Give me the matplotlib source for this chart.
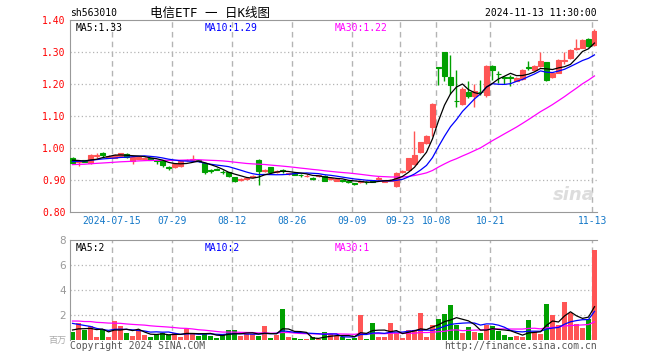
import numpy as np
import pandas as pd
import matplotlib
matplotlib.use("Agg")
import matplotlib.pyplot as plt

# ---- data (sh563010, daily) ----
opens = [0.970, 0.955, 0.961, 0.952, 0.975, 0.985, 0.972, 0.970, 0.974, 0.980,
         0.958, 0.967, 0.966, 0.968, 0.961, 0.961, 0.940, 0.940, 0.943, 0.962,
         0.962, 0.962, 0.953, 0.931, 0.934, 0.926, 0.925, 0.908, 0.901, 0.903,
         0.908, 0.964, 0.928, 0.940, 0.926, 0.930, 0.918, 0.922, 0.917, 0.912,
         0.906, 0.912, 0.914, 0.903, 0.898, 0.899, 0.897, 0.890, 0.893, 0.894,
         0.897, 0.903, 0.895, 0.898, 0.882, 0.925, 0.932, 0.950, 0.986, 1.016,
         1.066, 1.252, 1.300, 1.222, 1.148, 1.139, 1.174, 1.161, 1.176, 1.167,
         1.257, 1.232, 1.222, 1.221, 1.210, 1.216, 1.252, 1.243, 1.255, 1.269,
         1.222, 1.235, 1.273, 1.281, 1.309, 1.313, 1.341, 1.323]
closes = [0.953, 0.958, 0.957, 0.979, 0.977, 0.978, 0.976, 0.978, 0.983, 0.972,
          0.971, 0.971, 0.969, 0.963, 0.959, 0.948, 0.937, 0.950, 0.959, 0.964,
          0.965, 0.958, 0.925, 0.929, 0.932, 0.925, 0.911, 0.896, 0.903, 0.905,
          0.914, 0.927, 0.931, 0.924, 0.928, 0.928, 0.922, 0.917, 0.915, 0.914,
          0.904, 0.916, 0.898, 0.905, 0.902, 0.897, 0.893, 0.889, 0.896, 0.893,
          0.894, 0.905, 0.900, 0.901, 0.922, 0.928, 0.969, 0.979, 1.019, 1.039,
          1.138, 1.249, 1.224, 1.196, 1.146, 1.185, 1.161, 1.177, 1.174, 1.255,
          1.243, 1.230, 1.220, 1.219, 1.219, 1.245, 1.250, 1.257, 1.271, 1.214,
          1.234, 1.276, 1.275, 1.307, 1.311, 1.339, 1.318, 1.365]
highs = [0.972, 0.962, 0.963, 0.980, 0.983, 0.986, 0.978, 0.980, 0.984, 0.983,
         0.973, 0.975, 0.971, 0.969, 0.963, 0.962, 0.944, 0.952, 0.960, 0.966,
         0.979, 0.964, 0.954, 0.935, 0.937, 0.930, 0.926, 0.909, 0.905, 0.906,
         0.915, 0.965, 0.935, 0.941, 0.931, 0.933, 0.923, 0.923, 0.920, 0.920,
         0.909, 0.917, 0.916, 0.908, 0.903, 0.901, 0.898, 0.892, 0.898, 0.897,
         0.898, 0.913, 0.901, 0.903, 0.924, 0.930, 0.970, 1.054, 1.020, 1.041,
         1.140, 1.252, 1.300, 1.290, 1.245, 1.190, 1.208, 1.200, 1.213, 1.260,
         1.258, 1.240, 1.224, 1.229, 1.222, 1.247, 1.273, 1.259, 1.300, 1.270,
         1.236, 1.278, 1.300, 1.309, 1.342, 1.340, 1.344, 1.373]
lows = [0.951, 0.944, 0.955, 0.951, 0.970, 0.972, 0.970, 0.968, 0.972, 0.969,
        0.950, 0.965, 0.962, 0.961, 0.951, 0.940, 0.930, 0.936, 0.942, 0.958,
        0.958, 0.956, 0.920, 0.921, 0.930, 0.920, 0.909, 0.894, 0.896, 0.901,
        0.906, 0.883, 0.925, 0.922, 0.923, 0.921, 0.916, 0.915, 0.908, 0.908,
        0.900, 0.910, 0.896, 0.900, 0.897, 0.894, 0.892, 0.883, 0.891, 0.889,
        0.893, 0.900, 0.894, 0.897, 0.877, 0.923, 0.930, 0.948, 0.984, 1.014,
        1.036, 1.198, 1.210, 1.170, 1.128, 1.135, 1.155, 1.128, 1.167, 1.160,
        1.214, 1.203, 1.200, 1.193, 1.208, 1.214, 1.245, 1.240, 1.252, 1.210,
        1.219, 1.233, 1.262, 1.279, 1.307, 1.311, 1.316, 1.320]
volumes = [0.67, 1.36, 0.77, 1.12, 0.24, 0.88, 0.24, 1.52, 1.12, 0.56,
           0.32, 0.80, 0.40, 0.24, 0.45, 0.59, 0.40, 0.56, 0.24, 0.85,
           0.56, 0.32, 0.56, 0.35, 0.16, 0.40, 0.80, 0.80, 0.32, 0.48,
           0.48, 0.32, 1.12, 0.16, 0.40, 2.48, 0.24, 0.16, 0.08, 0.08,
           0.24, 0.08, 0.64, 0.45, 0.35, 0.25, 0.10, 0.20, 2.00, 0.10,
           1.36, 0.27, 0.24, 1.36, 0.53, 0.16, 0.80, 0.80, 2.16, 0.24,
           1.20, 1.68, 2.08, 2.80, 1.17, 0.56, 1.04, 0.64, 0.53, 1.20,
           1.12, 0.72, 0.43, 0.24, 0.32, 0.24, 1.60, 0.64, 0.48, 2.88,
           2.00, 1.20, 3.04, 2.16, 1.28, 0.96, 1.71, 7.20]

# closes / volumes before the visible window (only used to warm up the moving averages)
prev_close = [0.938, 0.941, 0.936, 0.940, 0.944, 0.942, 0.939, 0.945, 0.947, 0.944,
              0.940, 0.943, 0.946, 0.948, 0.945, 0.942, 0.944, 0.947, 0.949, 0.946,
              0.950, 0.953, 0.955, 0.954, 0.957, 0.962, 0.965, 0.963, 0.966]
prev_vol = [1.4, 1.9, 1.2, 2.1, 1.6, 1.3, 1.8, 1.5, 2.0, 1.4,
            1.7, 1.2, 1.9, 1.6, 1.5, 1.4, 1.8, 1.7, 1.3, 1.9,
            2.2, 1.6, 1.9, 1.8, 1.8, 0.9, 0.7, 1.0, 0.73]

tick_idx = [7, 17, 27, 37, 47, 55, 61, 70, 87]
tick_lab = ["2024-07-15", "07-29", "08-12", "08-26", "09-09", "09-23", "10-08", "10-21", "11-13"]

RED, GREEN = "#ff5555", "#00a000"
MONO = ["DejaVu Sans Mono", "Noto Sans CJK SC"]
GRID = "#b4b4b4"

n = len(closes)
x = np.arange(n)
o, c, h, l = map(np.array, (opens, closes, highs, lows))
up = c >= o
cols = np.where(up, RED, GREEN)

cs = pd.Series(prev_close + closes)
vs = pd.Series(prev_vol + volumes)
ma = {k: cs.rolling(k).mean().values[-n:] for k in (5, 10, 30)}
vma = {k: vs.rolling(k).mean().values[-n:] for k in (5, 10, 30)}
ma_col = {5: "black", 10: "#0000ff", 30: "#ff00ff"}

fig = plt.figure(figsize=(6.6, 3.6), dpi=100, facecolor="white")
ax = fig.add_axes([70 / 660, 1 - 212 / 360, 527 / 660, 192 / 360])
av = fig.add_axes([70 / 660, 20 / 360, 527 / 660, 100 / 360])

xlim = (-0.42, n - 0.58)
gx = [i - 0.4 for i in tick_idx]

# ---- price panel ----
for v in [0.9, 1.0, 1.1, 1.2, 1.3]:
    ax.axhline(v, color=GRID, ls=(0, (1, 2)), lw=0.9, zorder=0)
for g in gx:
    ax.axvline(g, color=GRID, ls=(0, (4, 3)), lw=1, zorder=0)
ax.vlines(x, l, h, colors=cols, lw=1, zorder=2)
ax.bar(x, np.abs(c - o), bottom=np.minimum(o, c), width=0.8, color=cols,
       edgecolor=cols, linewidth=0.8, zorder=3)
for k in (30, 10, 5):
    ax.plot(x, ma[k], color=ma_col[k], lw=0.9, zorder=4)

ax.set_xlim(*xlim)
ax.set_ylim(0.80, 1.40)
ax.set_yticks([0.80, 0.90, 1.00, 1.10, 1.20, 1.30, 1.40])
ax.set_yticklabels([f"{v:.2f}" for v in [0.80, 0.90, 1.00, 1.10, 1.20, 1.30, 1.40]],
                   color="#ff0000", fontsize=7, family="DejaVu Sans Mono")
ax.set_xticks(gx)
ax.set_xticklabels(tick_lab, color="#1478c8", fontsize=7, family="DejaVu Sans Mono")
ax.tick_params(length=0, pad=3)
for s in ("left", "top", "bottom"):
    ax.spines[s].set_color("#999999")
ax.spines["right"].set_visible(False)
ax.text(0.01, 0.985, "MA5:1.33", transform=ax.transAxes, va="top", fontsize=7, family=MONO, color="black")
ax.text(0.255, 0.985, "MA10:1.29", transform=ax.transAxes, va="top", fontsize=7, family=MONO, color="#0000ff")
ax.text(0.502, 0.985, "MA30:1.22", transform=ax.transAxes, va="top", fontsize=7, family=MONO, color="#ff00ff")
ax.text(0.995, 0.09, "sina", transform=ax.transAxes, ha="right", va="center", fontsize=13,
        style="italic", weight="bold", color="#dddddd", zorder=1)

# ---- volume panel ----
for v in [2, 4, 6]:
    av.axhline(v, color=GRID, ls=(0, (1, 2)), lw=0.9, zorder=0)
for g in gx:
    av.axvline(g, color=GRID, ls=(0, (4, 3)), lw=1, zorder=0)
av.bar(x, volumes, width=0.8, color=cols, zorder=2)
for k in (30, 10, 5):
    av.plot(x, vma[k], color=ma_col[k], lw=0.9, zorder=3)
av.set_xlim(*xlim)
av.set_ylim(0, 8)
av.set_yticks([2, 4, 6, 8])
av.set_yticklabels(["2", "4", "6", "8"], color="#999999", fontsize=7.5)
av.set_xticks([])
av.tick_params(length=0, pad=3)
for s in ("left", "top"):
    av.spines[s].set_color("#999999")
av.spines["right"].set_visible(False)
av.spines["bottom"].set_visible(False)
av.text(0.01, 0.97, "MA5:2", transform=av.transAxes, va="top", fontsize=7, family=MONO, color="black")
av.text(0.255, 0.97, "MA10:2", transform=av.transAxes, va="top", fontsize=7, family=MONO, color="#0000ff")
av.text(0.502, 0.97, "MA30:1", transform=av.transAxes, va="top", fontsize=7, family=MONO, color="#ff00ff")

# ---- header / footer text ----
fig.text(70 / 660, 1 - 13 / 360, "sh563010", fontsize=7, family=MONO, va="center")
fig.text(150 / 660, 1 - 13 / 360, "电信ETF 一 日K线图", fontsize=9, family=MONO, va="center")
fig.text(597 / 660, 1 - 13 / 360, "2024-11-13 11:30:00", fontsize=7, family=MONO, va="center", ha="right")
fig.text(66 / 660, 20 / 360, "百万", fontsize=6.5, color="#aaaaaa", va="center", ha="right",
         family=["Noto Sans CJK SC"])
fig.text(70 / 660, 14 / 360, "Copyright 2024 SINA.COM", fontsize=7, family=MONO, color="#555555", va="center")
fig.text(597 / 660, 14 / 360, "http://finance.sina.com.cn", fontsize=7, family=MONO, color="#555555",
         va="center", ha="right")

fig.savefig("out.png", dpi=100, facecolor="white")
